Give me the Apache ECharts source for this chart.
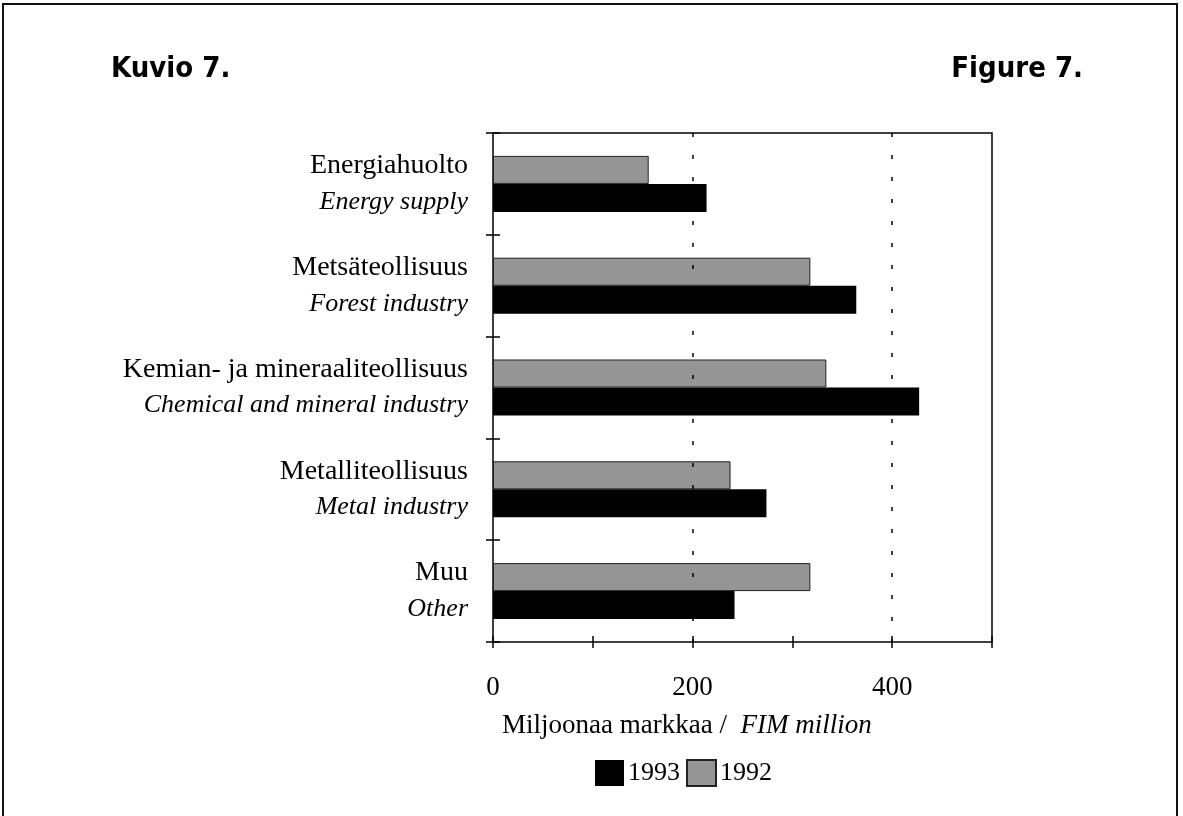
<!DOCTYPE html>
<html>
<head>
<meta charset="utf-8">
<script src="https://cdn.jsdelivr.net/npm/echarts@6/dist/echarts.min.js"></script>
<style>
  html, body { margin: 0; padding: 0; background: #fff; }
  #chart { width: 1183px; height: 816px; }
</style>
</head>
<body>
<div id="chart"></div>
<script>
// categories: Finnish name + English name
const catFi = ['Energiahuolto', 'Metsäteollisuus', 'Kemian- ja mineraaliteollisuus', 'Metalliteollisuus', 'Muu'];
const catEn = ['Energy supply', 'Forest industry', 'Chemical and mineral industry', 'Metal industry', 'Other'];
const categories = catFi.map((c, i) => c + '\n' + catEn[i]);

// Miljoonaa markkaa / FIM million
const values1992 = [156, 318, 334, 238, 318];
const values1993 = [214, 364, 427, 274, 242];

const xTickLabels = [0, 200, 400];

const serif = '"Liberation Serif", "DejaVu Serif", serif';
const narrow = '"Liberation Sans Narrow", "DejaVu Sans Condensed", sans-serif';

const myChart = echarts.init(document.getElementById('chart'));

myChart.setOption({
  animation: false,
  backgroundColor: '#fff',
  textStyle: { fontFamily: serif, color: '#000' },
  title: [
    {
      text: 'Kuvio 7.',
      left: 106, top: 50,
      textStyle: { fontFamily: narrow, fontWeight: 'bold', fontSize: 29, color: '#000' }
    },
    {
      text: 'Figure 7.',
      right: 95, top: 50,
      textStyle: { fontFamily: narrow, fontWeight: 'bold', fontSize: 29, color: '#000' }
    },
    {
      // x axis name, sits left of the axis centre like in the original
      text: '{a|Miljoonaa markkaa /  }{b|FIM million}',
      left: 497, top: 707,
      textStyle: {
        fontWeight: 'normal',
        rich: {
          a: { fontFamily: serif, fontSize: 27, fontWeight: 'normal', color: '#000' },
          b: { fontFamily: serif, fontSize: 27, fontWeight: 'normal', fontStyle: 'italic', color: '#000' }
        }
      }
    }
  ],
  graphic: [
    { type: 'rect', shape: { x: 3, y: 4, width: 1174, height: 820 }, style: { fill: null, stroke: '#111', lineWidth: 2 }, silent: true }
  ],
  legend: {
    data: ['1993', '1992'],
    left: 595, top: 759, padding: 0,
    itemWidth: 29, itemHeight: 26, itemGap: 6,
    icon: 'rect',
    textStyle: { fontFamily: serif, fontSize: 26, color: '#000', padding: [0, 0, 0, -1] }
  },
  grid: {
    left: 493, right: 191, top: 133, bottom: 174,
    show: true, borderColor: '#000', borderWidth: 1.5, containLabel: false
  },
  xAxis: {
    type: 'value', min: 0, max: 500, interval: 100,
    offset: -6,
    axisLine: { show: false },
    axisTick: { show: true, inside: false, length: 12, lineStyle: { color: '#000', width: 1.5 } },
    splitLine: { show: false },
    axisLabel: {
      margin: 38, fontSize: 27, color: '#000', fontFamily: serif,
      formatter: v => (xTickLabels.indexOf(v) >= 0 ? String(v) : '')
    }
  },
  yAxis: {
    type: 'category', data: categories, inverse: true,
    offset: -7,
    axisLine: { show: false },
    axisTick: { show: true, inside: false, length: 14, lineStyle: { color: '#000', width: 1.5 } },
    axisLabel: {
      margin: 32, align: 'right',
      formatter: (v, i) => '{a|' + catFi[i] + '}\n{b|' + catEn[i] + '}',
      rich: {
        a: { fontFamily: serif, fontSize: 28, lineHeight: 36, color: '#000', align: 'right' },
        b: { fontFamily: serif, fontSize: 26, lineHeight: 36, fontStyle: 'italic', color: '#000', align: 'right' }
      }
    }
  },
  series: [
    {
      name: '1992', type: 'bar', data: values1992,
      barWidth: 28, barGap: '0%',
      itemStyle: { color: '#959595', borderColor: '#222', borderWidth: 1 },
      markLine: {
        silent: true, symbol: 'none', label: { show: false },
        lineStyle: { color: '#000', type: [4, 18], width: 1.5 },
        data: [{ xAxis: 200 }, { xAxis: 400 }]
      }
    },
    {
      name: '1993', type: 'bar', data: values1993,
      barWidth: 28, barGap: '0%',
      itemStyle: { color: '#000' }
    }
  ]
});
</script>
</body>
</html>
